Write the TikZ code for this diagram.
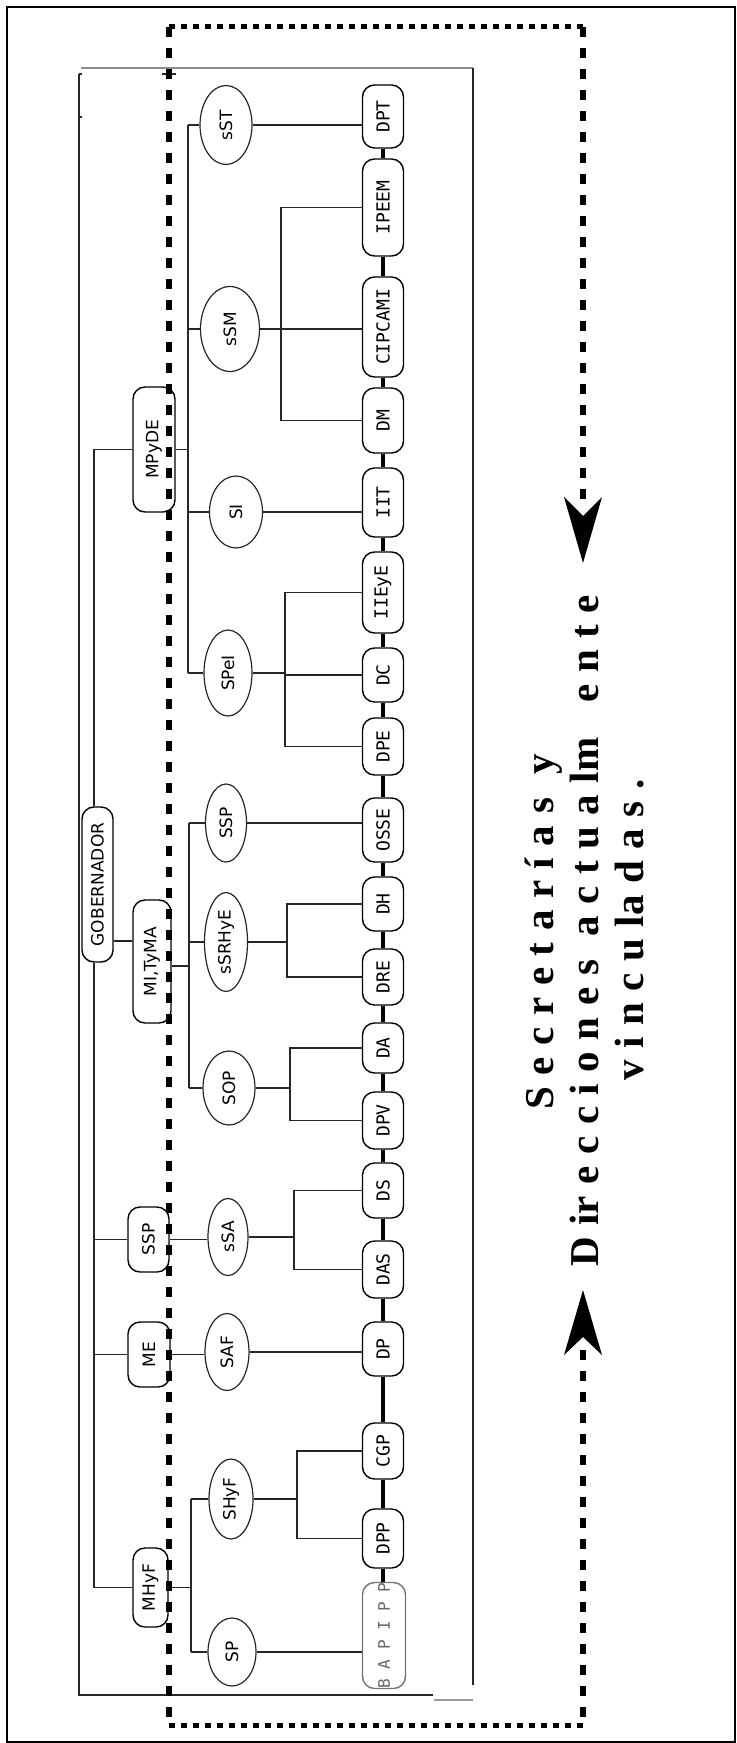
\documentclass[tikz,border=0pt]{standalone}
\usepackage{fontspec}
\usepackage{graphicx}
\setmainfont{Liberation Serif}
\newfontfamily\boxfont{DejaVu Sans}
\newfontfamily\monofont{DejaVu Sans Mono}
\usetikzlibrary{shapes.geometric}
\newcommand\widesp{\spaceskip=5.8pt\relax}
\begin{document}
\begin{tikzpicture}[x=0.5pt,y=-0.5pt,
  lbox/.style={draw=black, line width=0.7pt, rounded corners=6pt, inner sep=0pt,
    font=\boxfont\fontsize{8.5pt}{9pt}\selectfont},
  dbox/.style={lbox, minimum width=20.5pt, font=\monofont\fontsize{9pt}{9pt}\selectfont},
  ell/.style={ellipse, draw=black!85, line width=0.6pt, inner sep=0pt,
    font=\boxfont\fontsize{8.5pt}{9pt}\selectfont},
  conn/.style={draw=black!85, line width=0.65pt},
  thickc/.style={draw=black, line width=2pt},
  hdash/.style={draw=black, line width=2.5pt, dash pattern=on 3pt off 3pt},
  vdash/.style={draw=black, line width=3pt, dash pattern=on 5pt off 5.5pt},
  bigtext/.style={rotate=90, anchor=base, font=\bfseries\fontsize{20.5pt}{22pt}\selectfont}
]
\useasboundingbox (0,0) rectangle (736,1743);
% outer frame
\draw[line width=1pt] (7,7) rectangle (735,1742);
% inner frame
\draw[black!45, line width=0.6pt] (81,68) -- (473,68);
\draw[black!85, line width=0.6pt] (79,74) -- (79,1695) -- (433,1695);
\draw[black!40, line width=0.6pt] (434,1700) -- (473,1700);
\draw[black!85, line width=0.6pt] (473,68) -- (473,1685);
\draw[black!85, line width=0.6pt] (79,74) -- (82,74) (79,117) -- (82,117) (162,74) -- (176,74);

% level 1
\node[lbox, minimum width=15.5pt, minimum height=77.5pt] (GOB) at (97.5,884.5) {\rotatebox{90}{GOBERNADOR}};
% level 2
\node[lbox, minimum width=21pt, minimum height=62.5pt] (MPyDE) at (154,449.5) {\rotatebox{90}{MPyDE}};
\node[lbox, minimum width=19pt, minimum height=61.5pt] (MI) at (152,961.5) {\rotatebox{90}{MI,TyMA}};
\node[lbox, minimum width=20.5pt, minimum height=32.5pt] (SSPb) at (148.5,1239.5) {\rotatebox{90}{SSP}};
\node[lbox, minimum width=21pt, minimum height=32.5pt] (ME) at (149,1354.5) {\rotatebox{90}{ME}};
\node[lbox, minimum width=17.5pt, minimum height=39.5pt] (MHyF) at (150.5,1587.5) {\rotatebox{90}{MHyF}};
% level 3
\node[ell, minimum width=26pt, minimum height=39.5pt] (sST) at (226,125) {\rotatebox{90}{sST}};
\node[ell, minimum width=29.5pt, minimum height=42.5pt] (sSM) at (230,329) {\rotatebox{90}{sSM}};
\node[ell, minimum width=26.5pt, minimum height=36pt] (SI) at (236,512) {\rotatebox{90}{SI}};
\node[ell, minimum width=24pt, minimum height=43pt] (SPeI) at (228,673) {\rotatebox{90}{SPeI}};
\node[ell, minimum width=20.5pt, minimum height=39pt] (SSPc) at (226,823) {\rotatebox{90}{SSP}};
\node[ell, minimum width=21.5pt, minimum height=49.5pt] (sSRHyE) at (226,942) {\rotatebox{90}{sSRHyE}};
\node[ell, minimum width=26pt, minimum height=37pt] (SOP) at (229,1088) {\rotatebox{90}{SOP}};
\node[ell, minimum width=20pt, minimum height=38.5pt] (sSA) at (228,1237) {\rotatebox{90}{sSA}};
\node[ell, minimum width=22pt, minimum height=38.5pt] (SAF) at (227,1352) {\rotatebox{90}{SAF}};
\node[ell, minimum width=22pt, minimum height=40pt] (SHyF) at (231,1499) {\rotatebox{90}{SHyF}};
\node[ell, minimum width=24pt, minimum height=34pt] (SP) at (232,1652) {\rotatebox{90}{SP}};
% level 4
\node[dbox, minimum height=31.5pt] (DPT) at (383,116.5) {\rotatebox{90}{DPT}};
\node[dbox, minimum height=48.5pt] (IPEEM) at (383,207.5) {\rotatebox{90}{IPEEM}};
\node[dbox, minimum height=50pt] (CIPCAMI) at (383,327) {\rotatebox{90}{CIPCAMI}};
\node[dbox, minimum height=32.5pt] (DM) at (383,420.5) {\rotatebox{90}{DM}};
\node[dbox, minimum height=34.5pt] (IIT) at (383,502.5) {\rotatebox{90}{IIT}};
\node[dbox, minimum height=40.5pt] (IIEyE) at (383,592.5) {\rotatebox{90}{IIEyE}};
\node[dbox, minimum height=27pt] (DC) at (383,675) {\rotatebox{90}{DC}};
\node[dbox, minimum height=28.5pt] (DPE) at (383,746.5) {\rotatebox{90}{DPE}};
\node[dbox, minimum height=32pt] (OSSE) at (383,830) {\rotatebox{90}{OSSE}};
\node[dbox, minimum height=27pt] (DH) at (383,904) {\rotatebox{90}{DH}};
\node[dbox, minimum height=28pt] (DRE) at (383,977) {\rotatebox{90}{DRE}};
\node[dbox, minimum height=25pt] (DA) at (383,1048) {\rotatebox{90}{DA}};
\node[dbox, minimum height=28.5pt] (DPV) at (383,1120.5) {\rotatebox{90}{DPV}};
\node[dbox, minimum height=27.5pt] (DS) at (383,1190.5) {\rotatebox{90}{DS}};
\node[dbox, minimum height=28.5pt] (DAS) at (383,1269.5) {\rotatebox{90}{DAS}};
\node[dbox, minimum height=27pt] (DP) at (383,1349) {\rotatebox{90}{DP}};
\node[dbox, minimum height=28pt] (CGP) at (383,1451) {\rotatebox{90}{CGP}};
\node[dbox, minimum height=29.5pt] (DPP) at (383,1538.5) {\rotatebox{90}{DPP}};
\node[dbox, draw=black!55, text=black!60, minimum width=21.5pt, minimum height=49.5pt,
  font=\monofont\fontsize{8pt}{9pt}\selectfont] (BAPIPP) at (384,1635.5) {\rotatebox{90}{B A P I P P}};

% level 1 -> level 2
\coordinate (gx) at (94,0);
\coordinate (gm) at (0,941);
\draw[conn] (GOB.north -| gx) -- (gx |- MPyDE.west) -- (MPyDE.west);
\draw[conn] (GOB.south -| gx) -- (gx |- MHyF.west) -- (MHyF.west);
\draw[conn] (gx |- SSPb.west) -- (SSPb.west);
\draw[conn] (gx |- ME.west) -- (ME.west);
\draw[conn] (GOB.east |- gm) -- (MI.west |- gm);

% level 2 -> level 3
\coordinate (b1) at (188,0);
\draw[conn] (MPyDE.east) -- (MPyDE.east -| b1);
\draw[conn] (b1 |- sST.west) -- (b1 |- SPeI.west);
\draw[conn] (b1 |- sST.west) -- (sST.west);
\draw[conn] (b1 |- sSM.west) -- (sSM.west);
\draw[conn] (b1 |- SI.west) -- (SI.west);
\draw[conn] (b1 |- SPeI.west) -- (SPeI.west);
\coordinate (b2) at (189,0);
\coordinate (mo) at (0,966);
\draw[conn] (MI.east |- mo) -- (b2 |- mo);
\draw[conn] (b2 |- SSPc.west) -- (b2 |- SOP.west);
\draw[conn] (b2 |- SSPc.west) -- (SSPc.west);
\draw[conn] (b2 |- sSRHyE.west) -- (sSRHyE.west);
\draw[conn] (b2 |- SOP.west) -- (SOP.west);
\draw[conn] (SSPb.east) -- (SSPb.east -| sSA.west);
\draw[conn] (ME.east) -- (ME.east -| SAF.west);
\coordinate (b3) at (191,0);
\draw[conn] (MHyF.east) -- (MHyF.east -| b3);
\draw[conn] (b3 |- SHyF.west) -- (b3 |- SP.west);
\draw[conn] (b3 |- SHyF.west) -- (SHyF.west);
\draw[conn] (b3 |- SP.west) -- (SP.west);

% level 3 -> level 4
\draw[conn] (sST.east) -- (sST.east -| DPT.west);
\coordinate (c1) at (281,0);
\draw[conn] (sSM.east) -- (sSM.east -| CIPCAMI.west);
\draw[conn] (IPEEM.west) -- (IPEEM.west -| c1) -- (c1 |- DM.west) -- (DM.west);
\draw[conn] (SI.east) -- (SI.east -| IIT.west);
\coordinate (c2) at (285,0);
\draw[conn] (SPeI.east) -- (SPeI.east -| c2);
\draw[conn] (IIEyE.west) -- (IIEyE.west -| c2) -- (c2 |- DPE.west) -- (DPE.west);
\draw[conn] (DC.west) -- (DC.west -| c2);
\draw[conn] (SSPc.east) -- (SSPc.east -| OSSE.west);
\coordinate (c3) at (287,0);
\draw[conn] (sSRHyE.east) -- (sSRHyE.east -| c3);
\draw[conn] (DH.west) -- (DH.west -| c3) -- (c3 |- DRE.west) -- (DRE.west);
\coordinate (c4) at (290,0);
\draw[conn] (SOP.east) -- (SOP.east -| c4);
\draw[conn] (DA.west) -- (DA.west -| c4) -- (c4 |- DPV.west) -- (DPV.west);
\coordinate (c5) at (294,0);
\draw[conn] (sSA.east) -- (sSA.east -| c5);
\draw[conn] (DS.west) -- (DS.west -| c5) -- (c5 |- DAS.west) -- (DAS.west);
\draw[conn] (SAF.east) -- (SAF.east -| DP.west);
\coordinate (c6) at (297,0);
\draw[conn] (SHyF.east) -- (SHyF.east -| c6);
\draw[conn] (CGP.west) -- (CGP.west -| c6) -- (c6 |- DPP.west) -- (DPP.west);
\draw[conn] (SP.east) -- (SP.east -| BAPIPP.west);

% thick chain
\draw[thickc] (DPT.south) -- (IPEEM.north);
\draw[thickc] (IPEEM.south) -- (CIPCAMI.north);
\draw[thickc] (CIPCAMI.south) -- (DM.north);
\draw[thickc] (DM.south) -- (IIT.north);
\draw[thickc] (IIT.south) -- (IIEyE.north);
\draw[thickc] (IIEyE.south) -- (DC.north);
\draw[thickc] (DC.south) -- (DPE.north);
\draw[thickc] (DPE.south) -- (OSSE.north);
\draw[thickc] (OSSE.south) -- (DH.north);
\draw[thickc] (DH.south) -- (DRE.north);
\draw[thickc] (DRE.south) -- (DA.north);
\draw[thickc] (DA.south) -- (DPV.north);
\draw[thickc] (DPV.south) -- (DS.north);
\draw[thickc] (DS.south) -- (DAS.north);
\draw[thickc] (DAS.south) -- (DP.north);
\draw[thickc] (DP.south) -- (CGP.north);
\draw[thickc] (CGP.south) -- (DPP.north);
\draw[thickc] (DPP.south) -- (BAPIPP.north -| DPP.south);

% dashed frame with arrows
\draw[hdash] (169,27) -- (583,27);
\draw[hdash] (169,1725) -- (583,1725);
\draw[vdash] (169,27) -- (169,1725);
\draw[vdash] (583,27) -- (583,505);
\draw[vdash] (583,1350) -- (583,1725);
\fill (583,563) -- (602,497) -- (583,516) -- (564,497) -- cycle;
\fill (583,1290) -- (602,1355) -- (583,1337) -- (564,1355) -- cycle;

% text
\node[bigtext] (t1) at (553,932) {\widesp S e c r e t a r í a s \ y};
\node[bigtext] (t2) at (598,931) {\widesp D ir e c c i o n e s \ a c t u a lm \ \ e n t e};
\node[bigtext] (t3) at (643,930) {\widesp v i n c u la d a s .};
\end{tikzpicture}
\end{document}
